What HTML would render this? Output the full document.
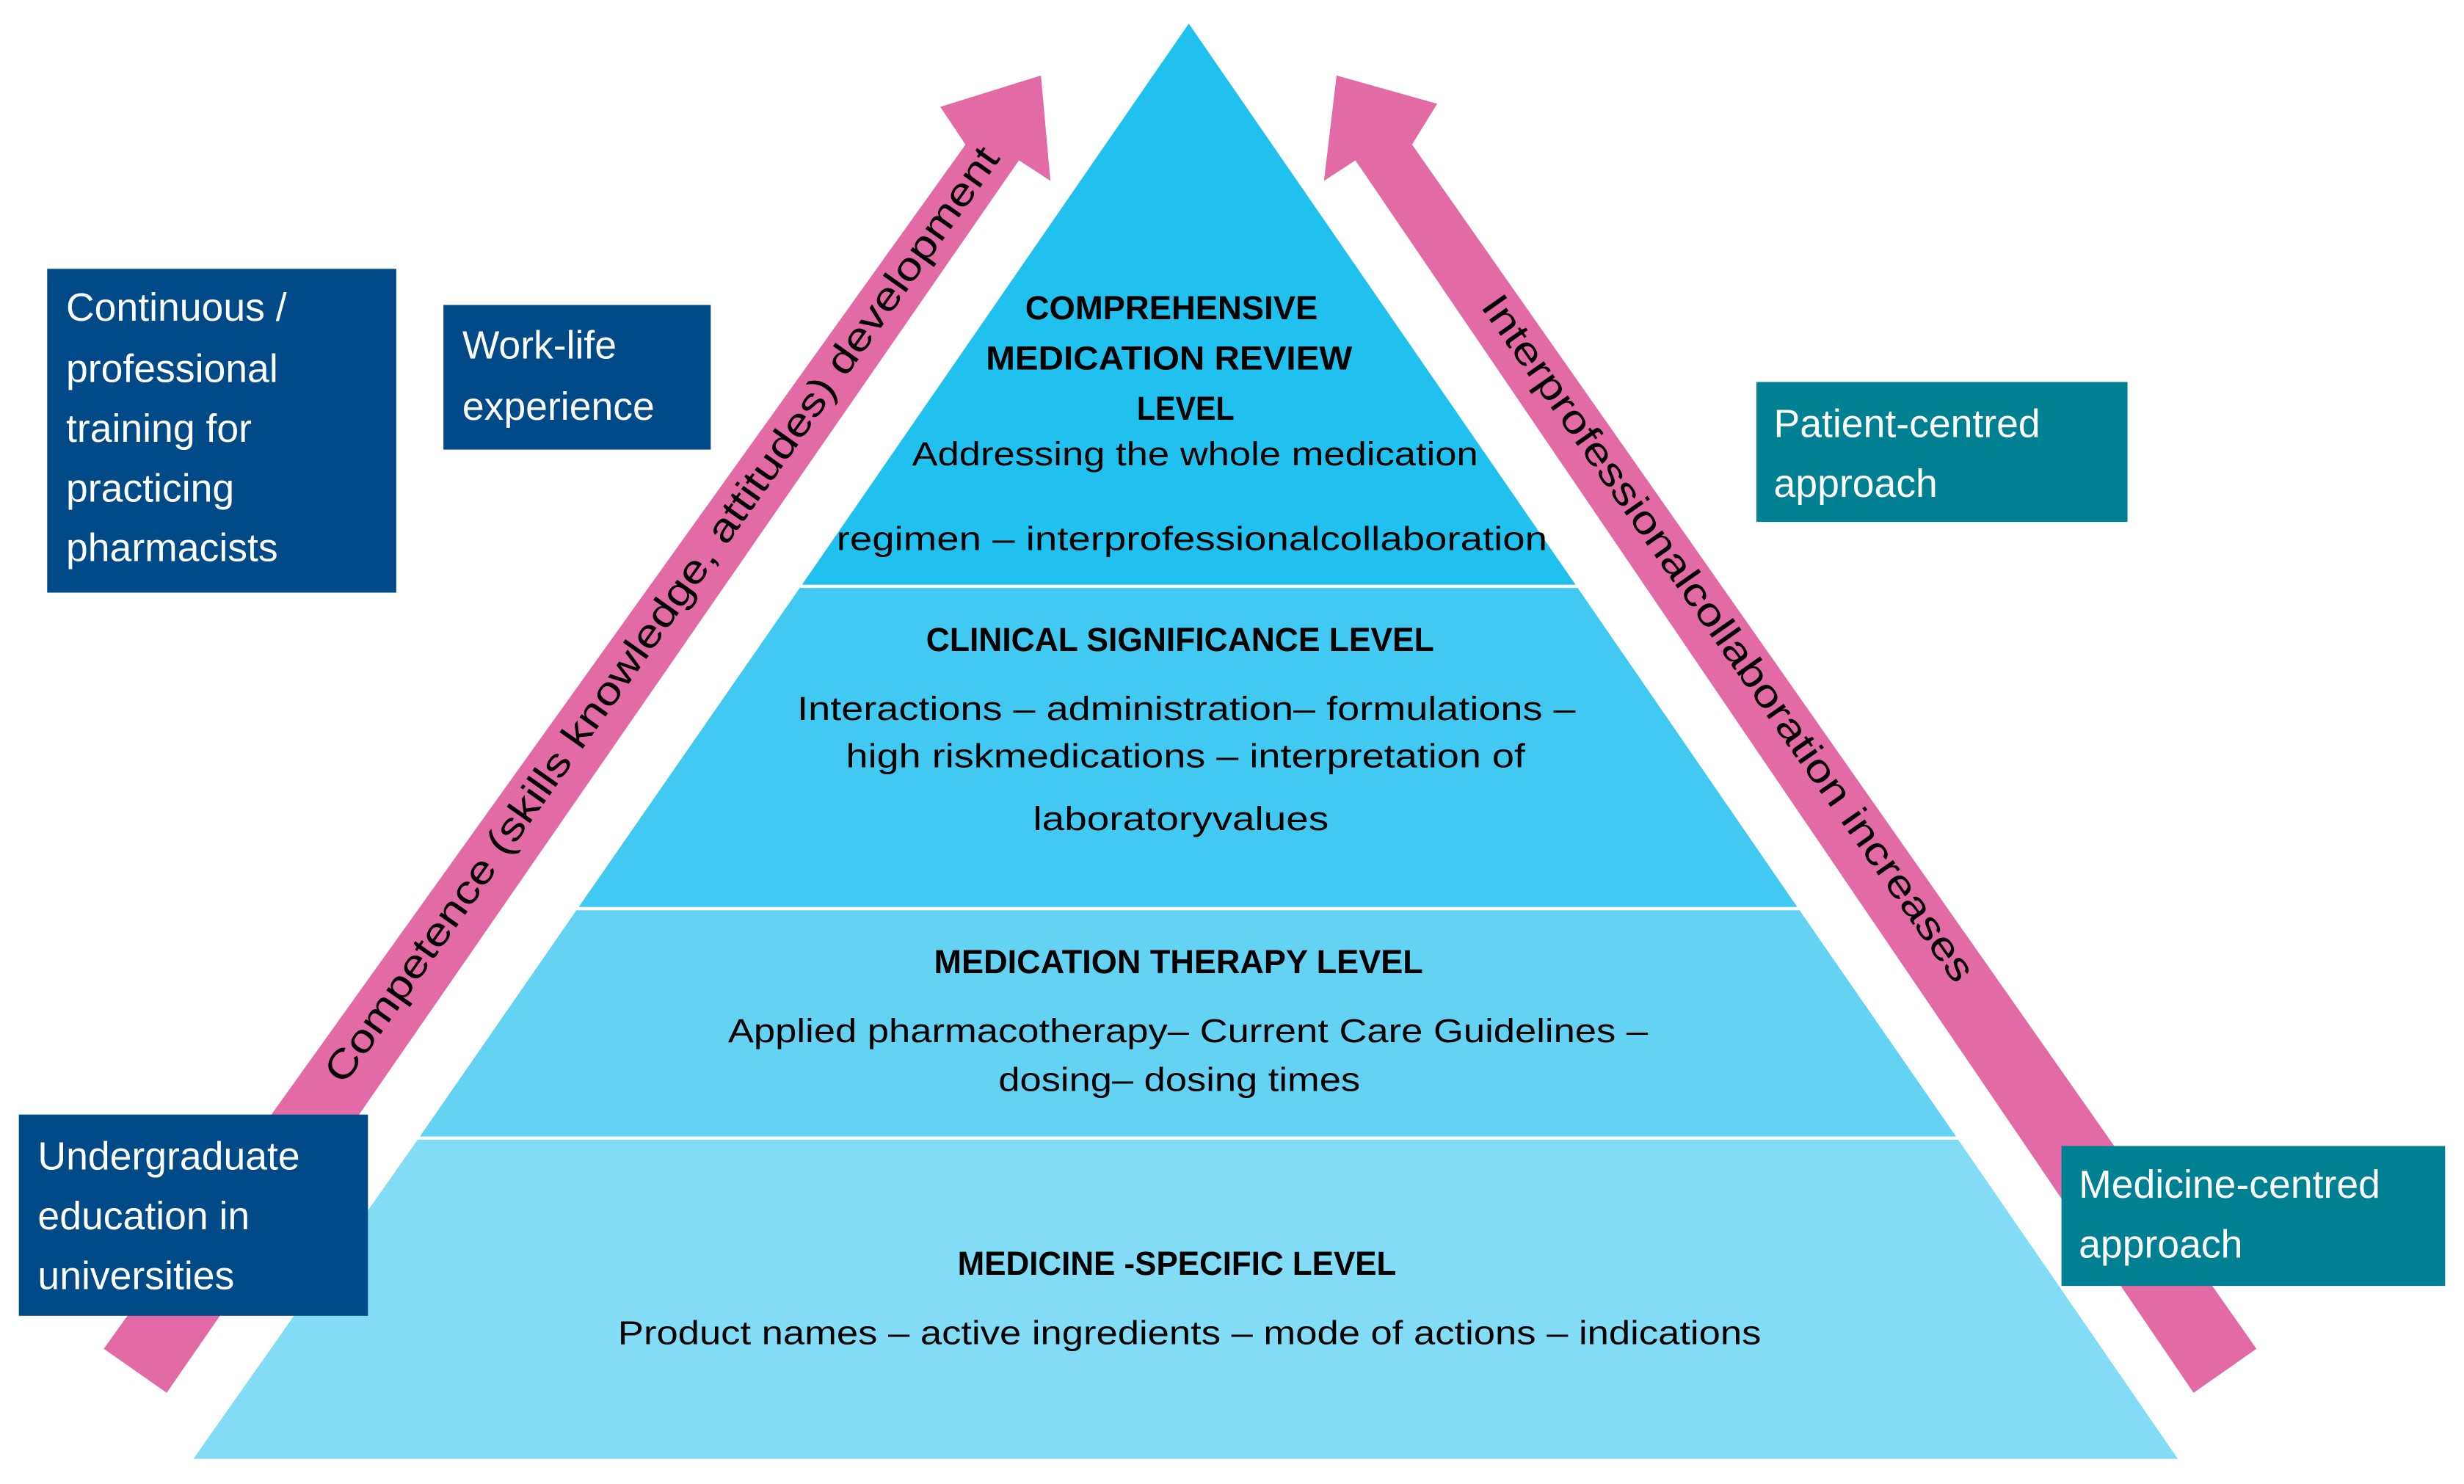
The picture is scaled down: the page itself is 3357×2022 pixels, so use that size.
<!DOCTYPE html>
<html><head><meta charset="utf-8"><style>html,body{margin:0;padding:0;background:#fff}svg{display:block}</style></head>
<body>
<svg width="3357" height="2022" viewBox="0 0 1567 944" preserveAspectRatio="none" xmlns="http://www.w3.org/2000/svg" font-family="'Liberation Sans', sans-serif">
<rect width="1567" height="944" fill="#fff"/>
<!-- pyramid bands -->
<polygon points="756,15 1002,372 510,372" fill="#21C1EF"/>
<polygon points="510,372 1002,372 1143,577 368,577" fill="#41C9F1"/>
<polygon points="368,577 1143,577 1244,723 267,723" fill="#63D2F3"/>
<polygon points="267,723 1244,723 1385,928 123,928" fill="#82DCF5"/>
<line x1="508" y1="373" x2="1004" y2="373" stroke="#fff" stroke-width="2"/>
<line x1="366" y1="578" x2="1145" y2="578" stroke="#fff" stroke-width="2"/>
<line x1="265" y1="724" x2="1246" y2="724" stroke="#fff" stroke-width="2"/>
<!-- arrows -->
<polygon points="66,858 614,92 598,68 662,48 668,115 648,102 106,886" fill="#E36BA5"/>
<polygon points="1435,858 898,92 914,66 850,48 842,115 862,102 1395,886" fill="#E36BA5"/>
<text x="0" y="0" transform="translate(421,391) rotate(-54.7)" text-anchor="middle" dominant-baseline="central" font-size="25" fill="#000" textLength="723" lengthAdjust="spacingAndGlyphs">Competence (skills knowledge, attitudes) development</text>
<text x="0" y="0" transform="translate(1099,406) rotate(55)" text-anchor="middle" dominant-baseline="central" font-size="25" fill="#000" textLength="527" lengthAdjust="spacingAndGlyphs">Interprofessionalcollaboration increases</text>
<!-- boxes -->
<rect x="30" y="171" width="222" height="206" fill="#004A87"/>
<rect x="282" y="194" width="170" height="92" fill="#004A87"/>
<rect x="12" y="709" width="222" height="128" fill="#004A87"/>
<rect x="1117" y="243" width="236" height="89" fill="#008193"/>
<rect x="1311" y="729" width="244" height="89" fill="#008193"/>
<g fill="#fff" font-size="25">
<text x="42" y="204">Continuous /</text>
<text x="42" y="243">professional</text>
<text x="42" y="281">training for</text>
<text x="42" y="319">practicing</text>
<text x="42" y="357">pharmacists</text>
<text x="294" y="228">Work-life</text>
<text x="294" y="267">experience</text>
<text x="24" y="744">Undergraduate</text>
<text x="24" y="782">education in</text>
<text x="24" y="820">universities</text>
<text x="1128" y="278">Patient-centred</text>
<text x="1128" y="316">approach</text>
<text x="1322" y="762">Medicine-centred</text>
<text x="1322" y="800">approach</text>
</g>
<!-- pyramid text -->
<g fill="#000" font-size="21" lengthAdjust="spacingAndGlyphs">
<text x="652" y="203" font-weight="bold" textLength="186" lengthAdjust="spacingAndGlyphs">COMPREHENSIVE</text>
<text x="627" y="235" font-weight="bold" textLength="233" lengthAdjust="spacingAndGlyphs">MEDICATION  REVIEW</text>
<text x="723" y="267" font-weight="bold" textLength="62" lengthAdjust="spacingAndGlyphs">LEVEL</text>
<text x="580" y="296" textLength="360" lengthAdjust="spacingAndGlyphs">Addressing the whole medication</text>
<text x="532" y="350" textLength="452" lengthAdjust="spacingAndGlyphs">regimen – interprofessionalcollaboration</text>
<text x="589" y="414" font-weight="bold" textLength="323" lengthAdjust="spacingAndGlyphs">CLINICAL SIGNIFICANCE LEVEL</text>
<text x="507" y="458" textLength="495" lengthAdjust="spacingAndGlyphs">Interactions – administration– formulations –</text>
<text x="538" y="488" textLength="432" lengthAdjust="spacingAndGlyphs">high riskmedications – interpretation of</text>
<text x="657" y="528" textLength="188" lengthAdjust="spacingAndGlyphs">laboratoryvalues</text>
<text x="594" y="619" font-weight="bold" textLength="311" lengthAdjust="spacingAndGlyphs">MEDICATION THERAPY LEVEL</text>
<text x="463" y="663" textLength="585" lengthAdjust="spacingAndGlyphs">Applied pharmacotherapy– Current Care Guidelines –</text>
<text x="635" y="694" textLength="230" lengthAdjust="spacingAndGlyphs">dosing– dosing times</text>
<text x="609" y="811" font-weight="bold" textLength="279" lengthAdjust="spacingAndGlyphs">MEDICINE -SPECIFIC LEVEL</text>
<text x="393" y="855" textLength="727" lengthAdjust="spacingAndGlyphs">Product names – active ingredients – mode of actions – indications</text>
</g>
</svg>
</body></html>
